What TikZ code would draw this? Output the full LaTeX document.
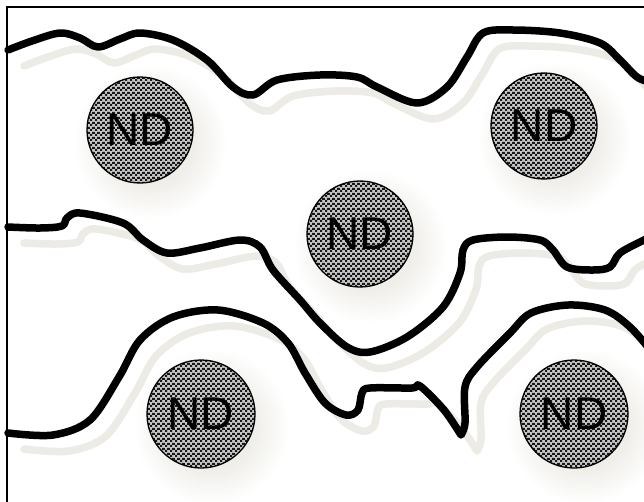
\documentclass[tikz,border=0pt]{standalone}
\usepackage{fontspec}
\setmainfont{Liberation Sans}
\usetikzlibrary{patterns.meta}
\definecolor{shadowc}{RGB}{236,235,229}
\definecolor{glowc}{RGB}{239,238,233}
\pgfdeclareradialshading{ndglow}{\pgfpoint{0bp}{0bp}}{color(0bp)=(glowc); color(14bp)=(glowc); color(25bp)=(white); color(50bp)=(white)}
\tikzdeclarepattern{
  name=ndchk, type=colored,
  bottom left={(0pt,0pt)}, top right={(5pt,5pt)}, tile size={(5pt,5pt)},
  code={\fill[black!90] (0pt,0pt) rectangle (2.5pt,2.5pt);
        \fill[black!90] (2.5pt,2.5pt) rectangle (5pt,5pt);}
}
\tikzset{
  wavy/.style={line width=7.5pt, line join=round, line cap=round, draw=black},
  wavyshadow/.style={line width=7.5pt, line join=round, line cap=round, draw=shadowc, shift={(16,16)}},
  ndcirc/.style={circle, draw=black, line width=1.3pt, preaction={fill=black!22}, pattern=ndchk,
    minimum size=106pt, inner sep=0pt, font=\fontsize{46}{46}\selectfont},
  frameline/.style={line width=2pt, draw=black}
}
\newcommand\ndCurveA[1]{\draw[#1] plot[smooth,tension=0.55] coordinates {(8,50) (32,41) (60,33) (80,38) (98,47) (120,39) (140,33) (173,40) (207,60) (233,87) (253,95) (277,80) (320,75) (357,77) (377,87) (417,103) (447,87) (467,57) (483,33) (513,30) (560,33) (600,43) (620,60) (637,77) (652,83)};}
\newcommand\ndCurveB[1]{\draw[#1] plot[smooth,tension=0.55] coordinates {(8,227) (40,228) (62,226) (67,218) (80,213) (123,223) (143,240) (167,253) (200,248) (240,240) (260,247) (273,270) (300,300) (320,323) (347,347) (370,352) (407,337) (443,307) (460,273) (463,250) (473,240) (507,237) (540,240) (553,250) (567,267) (593,270) (610,267) (620,253) (644,240) (652,236)};}
\newcommand\ndCurveC[1]{\draw[#1] plot[smooth,tension=0.55] coordinates {(8,433) (53,435) (90,420) (119,377) (140,340) (173,317) (218,310) (263,323) (288,343) (305,373) (325,403) (346,415) (358,410) (362,393) (370,388) (412,388) (420,386) (444,410) (461,435)} -- plot[smooth,tension=0.55] coordinates {(461,435) (465,423) (465,387) (477,367) (510,333) (531,313) (568,305) (605,310) (630,327) (652,352)};}
\begin{document}
\begin{tikzpicture}[x=1pt,y=-1pt]
\useasboundingbox (0,0) rectangle (644,501);
\clip (0,0) rectangle (644,501);
\fill[white] (0,0) rectangle (644,501);
% soft glows of the circles
\foreach \cx/\cy/\r in {140/130/53, 544/126/53, 360/234/53, 201/414/54, 574/414/54}{
  \shade[shading=ndglow] (\cx+10,\cy+12) circle[radius=\r pt+24pt];
}
% shadows of wavy lines
\ndCurveA{wavyshadow}
\ndCurveB{wavyshadow}
\ndCurveC{wavyshadow}
% wavy lines
\ndCurveA{wavy}
\ndCurveB{wavy}
\ndCurveC{wavy}
% frame (top and left edges visible)
\coordinate (fbl) at (7,510);
\coordinate (ftl) at (7,7);
\coordinate (ftr) at (650,7);
\draw[frameline] (fbl) -- (ftl) -- (ftr);
% circles
\node[ndcirc] (nd1) at (140,130) {ND};
\node[ndcirc] (nd2) at (544,126) {ND};
\node[ndcirc] (nd3) at (360,234) {ND};
\node[ndcirc, minimum size=108pt] (nd4) at (201,414) {ND};
\node[ndcirc, minimum size=108pt] (nd5) at (574,414) {ND};
\end{tikzpicture}
\end{document}
